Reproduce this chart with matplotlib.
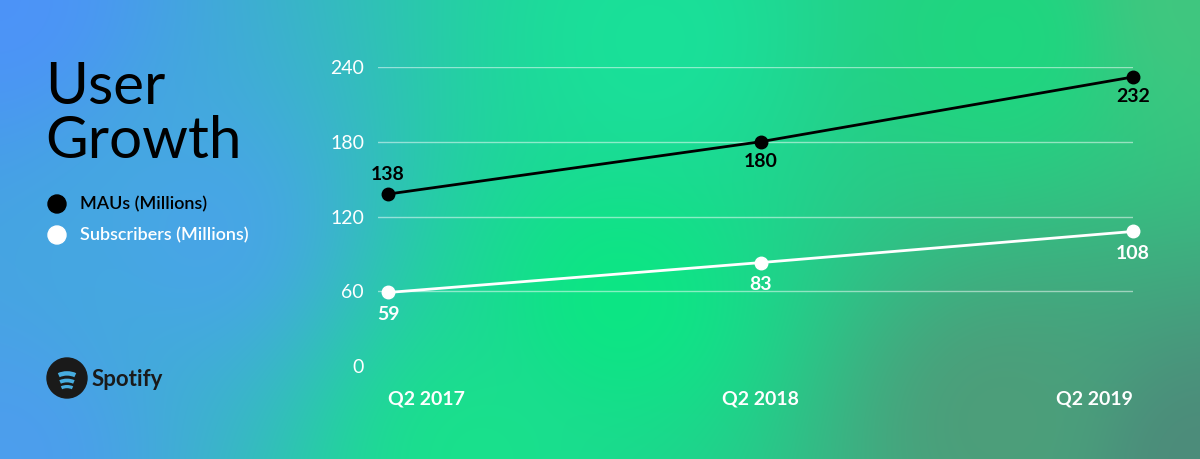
import matplotlib.pyplot as plt
import matplotlib.patches as mpatches
import numpy as np

# ── Data ─────────────────────────────────────────────
quarters = ["Q2 2017", "Q2 2018", "Q2 2019"]
maus = [138, 180, 232]
subs = [59, 83, 108]
yticks = [0, 60, 120, 180, 240]

FONT = "Lato"
plt.rcParams["font.family"] = [FONT, "DejaVu Sans"]

fig = plt.figure(figsize=(12, 4.59), dpi=100)

# ── Gradient background ──────────────────────────────
bg = fig.add_axes([0, 0, 1, 1])
H, W = 459, 1200
yy, xx = np.mgrid[0:H, 0:W]
anchors = [  # (x, y, rgb)
    (0, 0, (0.30, 0.58, 0.97)),
    (0, 459, (0.30, 0.62, 0.93)),
    (200, 230, (0.28, 0.65, 0.90)),
    (650, 40, (0.10, 0.88, 0.60)),
    (620, 300, (0.05, 0.90, 0.52)),
    (480, 459, (0.10, 0.88, 0.55)),
    (1000, 40, (0.12, 0.84, 0.50)),
    (1200, 0, (0.25, 0.78, 0.50)),
    (1200, 459, (0.30, 0.55, 0.48)),
    (1000, 420, (0.30, 0.62, 0.48)),
]
wsum = np.zeros((H, W))
img = np.zeros((H, W, 3))
for ax_, ay_, c in anchors:
    w = 1.0 / ((xx - ax_) ** 2 + (yy - ay_) ** 2 + 1.0) ** 1.2
    wsum += w
    img += w[..., None] * np.array(c)
img /= wsum[..., None]
bg.imshow(img, aspect="auto", extent=[0, W, H, 0])
bg.set_xlim(0, W); bg.set_ylim(H, 0)
bg.axis("off")

# ── Title / legend ───────────────────────────────────
bg.text(45, 88, "User", fontsize=42, color="black", va="center", ha="left")
bg.text(45, 142, "Growth", fontsize=42, color="black", va="center", ha="left")
bg.add_patch(mpatches.Circle((57, 204), 9, color="black"))
bg.text(80, 204, "MAUs (Millions)", fontsize=13, color="black", va="center",
        fontweight="semibold")
bg.add_patch(mpatches.Circle((57, 235), 9, color="white"))
bg.text(80, 235, "Subscribers (Millions)", fontsize=13, color="white", va="center",
        fontweight="semibold")

# Spotify logo
bg.add_patch(mpatches.Circle((67, 378), 20, color="#1a1a1a"))
arc_c = (0.28, 0.68, 0.88)
for cy, r, lw in [(380, 12, 3.2), (386, 10, 2.7), (391, 8, 2.3)]:
    bg.add_patch(mpatches.Arc((67, cy), 2 * r, r * 1.1,
                              theta1=210, theta2=330, color=arc_c, lw=lw))
bg.text(92, 379, "Spotify", fontsize=16, color="#1a1a1a", va="center",
        fontweight="bold")

# ── Chart ────────────────────────────────────────────
ax = fig.add_axes([0.315, 1 - 366 / 459, 1133 / 1200 - 0.315, (366 - 67) / 459])
ax.patch.set_alpha(0)
x = np.arange(len(quarters))
ax.set_xlim(-0.027, 2)
ax.set_ylim(0, 240)
for t in yticks[1:]:
    ax.axhline(t, color="white", alpha=0.5, lw=1, zorder=1)
for s in ax.spines.values():
    s.set_visible(False)
ax.set_xticks([])
ax.set_yticks(yticks)
ax.set_yticklabels([str(t) for t in yticks], fontsize=14, color="white")
ax.tick_params(axis="y", length=0, pad=10)

ax.plot(x, maus, color="black", lw=2, marker="o", ms=9, zorder=3, clip_on=False)
ax.plot(x, subs, color="white", lw=2, marker="o", ms=9, zorder=3, clip_on=False)
for xi, v in zip(x, maus):
    dy = 14 if xi == 0 else -14
    ax.annotate(str(v), (xi, v), xytext=(0, dy), textcoords="offset points",
                ha="center", va="center", fontsize=14, fontweight="bold", color="black")
for xi, v in zip(x, subs):
    ax.annotate(str(v), (xi, v), xytext=(0, -16), textcoords="offset points",
                ha="center", va="center", fontsize=14, fontweight="bold", color="white")

has = ["left", "center", "right"]
for xi, q, h in zip(x, quarters, has):
    ax.annotate(q, (xi, 0), xytext=(0, -24), textcoords="offset points",
                ha=h, va="center", fontsize=14, color="white", fontweight="bold")

fig.savefig("out.png", dpi=100)
